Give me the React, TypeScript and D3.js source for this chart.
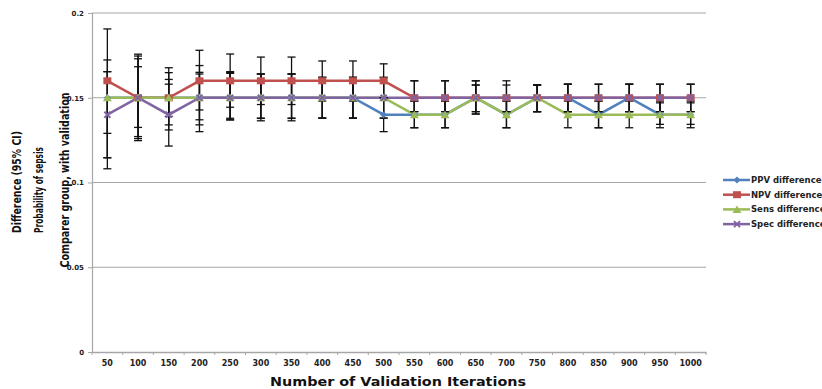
import { useRef, useEffect } from "react";
import * as d3 from "d3";

const iterations = [50, 100, 150, 200, 250, 300, 350, 400, 450, 500, 550, 600, 650, 700, 750, 800, 850, 900, 950, 1000];
const yTicks = [0, 0.05, 0.1, 0.15, 0.2];

const ppv = [0.15, 0.15, 0.15, 0.15, 0.15, 0.15, 0.15, 0.15, 0.15, 0.14, 0.14, 0.14, 0.15, 0.14, 0.15, 0.15, 0.14, 0.15, 0.14, 0.14];
const ppvLow = [0.1146, 0.1325, 0.134, 0.134, 0.137, 0.138, 0.138, 0.138, 0.138, 0.13, 0.1323, 0.1323, 0.1404, 0.1323, 0.1418, 0.1418, 0.1323, 0.1418, 0.1343, 0.1343];
const ppvHigh = [0.1654, 0.1683, 0.1648, 0.165, 0.165, 0.164, 0.164, 0.162, 0.162, 0.15, 0.148, 0.148, 0.1575, 0.148, 0.1575, 0.158, 0.148, 0.158, 0.147, 0.147];

const npv = [0.16, 0.15, 0.15, 0.16, 0.16, 0.16, 0.16, 0.16, 0.16, 0.16, 0.15, 0.15, 0.15, 0.15, 0.15, 0.15, 0.15, 0.15, 0.15, 0.15];
const npvLow = [0.129, 0.1247, 0.131, 0.13, 0.1444, 0.146, 0.146, 0.148, 0.148, 0.15, 0.1418, 0.1418, 0.1418, 0.1418, 0.1418, 0.1418, 0.1418, 0.1418, 0.1418, 0.1418];
const npvHigh = [0.1906, 0.1757, 0.1677, 0.178, 0.1758, 0.174, 0.174, 0.1717, 0.1717, 0.17, 0.16, 0.16, 0.16, 0.16, 0.1575, 0.158, 0.158, 0.158, 0.158, 0.158];

const sens = [0.15, 0.15, 0.15, 0.15, 0.15, 0.15, 0.15, 0.15, 0.15, 0.15, 0.14, 0.14, 0.15, 0.14, 0.15, 0.14, 0.14, 0.14, 0.14, 0.14];
const sensLow = [0.1146, 0.1259, 0.139, 0.137, 0.1379, 0.1378, 0.1378, 0.138, 0.138, 0.138, 0.1323, 0.1323, 0.1418, 0.1323, 0.1418, 0.1323, 0.1323, 0.1323, 0.1323, 0.1323];
const sensHigh = [0.1654, 0.1746, 0.1608, 0.164, 0.1654, 0.164, 0.164, 0.162, 0.162, 0.162, 0.148, 0.148, 0.1575, 0.148, 0.1575, 0.148, 0.148, 0.148, 0.148, 0.148];

const spec = [0.14, 0.15, 0.14, 0.15, 0.15, 0.15, 0.15, 0.15, 0.15, 0.15, 0.15, 0.15, 0.15, 0.15, 0.15, 0.15, 0.15, 0.15, 0.15, 0.15];
const specLow = [0.1081, 0.1271, 0.1215, 0.1428, 0.1369, 0.1364, 0.1364, 0.138, 0.138, 0.138, 0.1418, 0.1418, 0.1404, 0.1418, 0.1418, 0.1418, 0.1418, 0.1418, 0.1418, 0.1418];
const specHigh = [0.1723, 0.173, 0.158, 0.169, 0.1644, 0.164, 0.164, 0.162, 0.162, 0.162, 0.16, 0.16, 0.16, 0.1575, 0.1575, 0.158, 0.158, 0.158, 0.158, 0.158];

const seriesNames = ["PPV difference", "NPV difference", "Sens difference", "Spec difference"];
const yTitleLines = ["Difference (95% CI)", "Probability of sepsis", "Comparer group, with validation"];

export default function App() {
  const ref = useRef<SVGSVGElement>(null);

  useEffect(() => {
    const svg = d3.select(ref.current);
    svg.selectAll("*").remove();

    const left = 92, right = 706, top = 13, bottom = 352;
    const bold = "'DejaVu Sans', sans-serif";
    const narrow = "'Liberation Sans Narrow', 'DejaVu Sans Condensed', sans-serif";

    const x = d3.scaleBand<number>().domain(iterations).range([left, right]);
    const cx = (d: number) => (x(d) as number) + x.bandwidth() / 2;
    const y = d3.scaleLinear().domain([0, 0.2]).range([bottom, top]);

    const series = [
      { name: seriesNames[0], vals: ppv, lo: ppvLow, hi: ppvHigh, color: "#4F81BD", marker: "diamond" },
      { name: seriesNames[1], vals: npv, lo: npvLow, hi: npvHigh, color: "#C0504D", marker: "square" },
      { name: seriesNames[2], vals: sens, lo: sensLow, hi: sensHigh, color: "#9BBB59", marker: "triangle" },
      { name: seriesNames[3], vals: spec, lo: specLow, hi: specHigh, color: "#8064A2", marker: "x" },
    ];

    // gridlines
    svg.append("g")
      .selectAll("line")
      .data(yTicks.filter((t) => t > 0))
      .join("line")
      .attr("x1", left).attr("x2", right)
      .attr("y1", (d) => y(d)).attr("y2", (d) => y(d))
      .attr("stroke", "#a6a6a6").attr("stroke-width", 1.2);

    // y axis
    const yAxis = svg.append("g").attr("transform", `translate(${left},0)`)
      .call(d3.axisLeft(y).tickValues(yTicks).tickSize(4).tickFormat((d) => String(d)));
    yAxis.select(".domain").attr("stroke", "#a6a6a6").attr("stroke-width", 1.2);
    yAxis.selectAll(".tick line").attr("stroke", "#a6a6a6");
    yAxis.selectAll(".tick text")
      .attr("font-family", bold).attr("font-weight", "bold").attr("font-size", 7)
      .attr("fill", "#222").attr("x", -8);

    // x axis
    const xAxis = svg.append("g").attr("transform", `translate(0,${bottom})`)
      .call(d3.axisBottom(x).tickSize(0).tickPadding(8));
    xAxis.select(".domain").attr("stroke", "#a6a6a6").attr("stroke-width", 1.5);
    xAxis.selectAll(".tick text")
      .attr("font-family", bold).attr("font-weight", "bold").attr("font-size", 8)
      .attr("fill", "#222");
    svg.append("g")
      .selectAll("line")
      .data(iterations)
      .join("line")
      .attr("x1", (d) => x(d) as number).attr("x2", (d) => x(d) as number)
      .attr("y1", bottom).attr("y2", bottom + 3)
      .attr("stroke", "#a6a6a6");
    svg.append("line")
      .attr("x1", right).attr("x2", right).attr("y1", bottom).attr("y2", bottom + 3)
      .attr("stroke", "#a6a6a6");

    // series lines
    series.forEach((s) => {
      const line = d3.line<number>()
        .x((_, i) => cx(iterations[i]))
        .y((d) => y(d));
      svg.append("path")
        .datum(s.vals)
        .attr("fill", "none")
        .attr("stroke", s.color)
        .attr("stroke-width", 2.5)
        .attr("d", line);
    });

    // error bars
    const eb = svg.append("g").attr("stroke", "#111").attr("stroke-width", 1.3);
    series.forEach((s) => {
      iterations.forEach((it, i) => {
        const px = cx(it);
        eb.append("line").attr("x1", px).attr("x2", px).attr("y1", y(s.lo[i])).attr("y2", y(s.hi[i]));
        [s.lo[i], s.hi[i]].forEach((v) => {
          eb.append("line").attr("x1", px - 4).attr("x2", px + 4).attr("y1", y(v)).attr("y2", y(v));
        });
      });
    });

    const drawMarker = (g: any, kind: string, px: number, py: number, color: string) => {
      if (kind === "square") {
        g.append("rect").attr("x", px - 4).attr("y", py - 3.5).attr("width", 8).attr("height", 7).attr("fill", color);
      } else if (kind === "diamond") {
        g.append("path").attr("d", `M${px},${py - 3.5}L${px + 3.5},${py}L${px},${py + 3.5}L${px - 3.5},${py}Z`).attr("fill", color);
      } else if (kind === "triangle") {
        g.append("path").attr("d", `M${px},${py - 4}L${px + 4.5},${py + 3.5}L${px - 4.5},${py + 3.5}Z`).attr("fill", color);
      } else {
        g.append("path").attr("d", `M${px - 3},${py - 3}L${px + 3},${py + 3}M${px - 3},${py + 3}L${px + 3},${py - 3}`)
          .attr("stroke", color).attr("stroke-width", 2);
      }
    };

    // markers
    series.forEach((s) => {
      const g = svg.append("g");
      s.vals.forEach((v, i) => drawMarker(g, s.marker, cx(iterations[i]), y(v), s.color));
    });

    // legend
    series.forEach((s, i) => {
      const ly = 180 + i * 14.7;
      const g = svg.append("g");
      g.append("line").attr("x1", 723).attr("x2", 750).attr("y1", ly).attr("y2", ly)
        .attr("stroke", s.color).attr("stroke-width", 2.5);
      drawMarker(g, s.marker, 737, ly, s.color);
      g.append("text").attr("x", 751).attr("y", ly + 3)
        .attr("font-family", bold).attr("font-weight", "bold").attr("font-size", 8.5)
        .attr("fill", "#222").text(s.name);
    });

    // y title
    const titleX = [16, 38, 64];
    const titleCY = [182, 190, 180];
    const titleLen = [102, 86, 175];
    yTitleLines.forEach((t, i) => {
      svg.append("text")
        .attr("transform", `translate(${titleX[i] + 5},${titleCY[i]}) rotate(-90)`)
        .attr("text-anchor", "middle")
        .attr("font-family", narrow).attr("font-weight", "bold").attr("font-size", 13)
        .attr("textLength", titleLen[i]).attr("lengthAdjust", "spacingAndGlyphs")
        .attr("fill", "#111").text(t);
    });

    // x title
    svg.append("text")
      .attr("x", 398).attr("y", 386)
      .attr("text-anchor", "middle")
      .attr("font-family", bold).attr("font-weight", "bold").attr("font-size", 12)
      .attr("textLength", 256).attr("lengthAdjust", "spacingAndGlyphs")
      .attr("fill", "#111").text("Number of Validation Iterations");
  }, []);

  return (
    <svg ref={ref} width={822} height={389}
      style={{ position: "absolute", left: 0, top: 0, background: "#fff" }} />
  );
}
